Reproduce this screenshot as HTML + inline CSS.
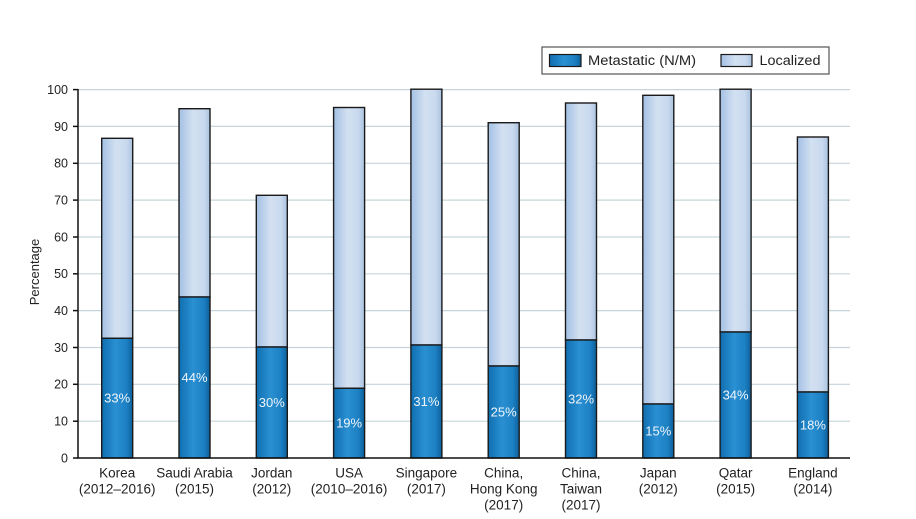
<!DOCTYPE html>
<html><head><meta charset="utf-8"><style>
html,body{margin:0;padding:0;background:#fff;}
svg{display:block;font-family:"Liberation Sans",sans-serif;}
</style></head><body>
<svg width="916" height="519" viewBox="0 0 916 519" xmlns="http://www.w3.org/2000/svg">
<defs>
<linearGradient id="gm" x1="0" x2="1" y1="0" y2="0">
<stop offset="0" stop-color="#0f6eb0"/><stop offset="0.45" stop-color="#2a90d2"/><stop offset="0.8" stop-color="#1c80c3"/><stop offset="1" stop-color="#0d5f99"/>
</linearGradient>
<linearGradient id="gl" x1="0" x2="1" y1="0" y2="0">
<stop offset="0" stop-color="#a3c0e4"/><stop offset="0.45" stop-color="#d2e0f1"/><stop offset="0.8" stop-color="#c9d9ee"/><stop offset="1" stop-color="#a9c2e0"/>
</linearGradient>
</defs>
<g stroke="#c6d5d9" stroke-width="1.2">
<line x1="78" x2="850" y1="89.6" y2="89.6"/><line x1="78" x2="850" y1="126.4" y2="126.4"/><line x1="78" x2="850" y1="163.3" y2="163.3"/><line x1="78" x2="850" y1="200.1" y2="200.1"/><line x1="78" x2="850" y1="237" y2="237"/><line x1="78" x2="850" y1="273.8" y2="273.8"/><line x1="78" x2="850" y1="310.6" y2="310.6"/><line x1="78" x2="850" y1="347.5" y2="347.5"/><line x1="78" x2="850" y1="384.3" y2="384.3"/><line x1="78" x2="850" y1="421.2" y2="421.2"/>
</g>
<g stroke="#1a1a1a" stroke-width="1.4">
<rect x="101.7" y="138.3" width="31" height="200" fill="url(#gl)"/><rect x="101.7" y="338.3" width="31" height="119.7" fill="url(#gm)"/>
<rect x="179" y="108.7" width="31" height="188.3" fill="url(#gl)"/><rect x="179" y="297" width="31" height="161" fill="url(#gm)"/>
<rect x="256.3" y="195.3" width="31" height="151.7" fill="url(#gl)"/><rect x="256.3" y="347" width="31" height="111" fill="url(#gm)"/>
<rect x="333.6" y="107.5" width="31" height="280.8" fill="url(#gl)"/><rect x="333.6" y="388.3" width="31" height="69.7" fill="url(#gm)"/>
<rect x="410.9" y="89.2" width="31" height="255.8" fill="url(#gl)"/><rect x="410.9" y="345" width="31" height="113" fill="url(#gm)"/>
<rect x="488.2" y="122.7" width="31" height="243.3" fill="url(#gl)"/><rect x="488.2" y="366" width="31" height="92" fill="url(#gm)"/>
<rect x="565.5" y="103" width="31" height="237" fill="url(#gl)"/><rect x="565.5" y="340" width="31" height="118" fill="url(#gm)"/>
<rect x="642.8" y="95.3" width="31" height="308.7" fill="url(#gl)"/><rect x="642.8" y="404" width="31" height="54" fill="url(#gm)"/>
<rect x="720.1" y="89.2" width="31" height="242.8" fill="url(#gl)"/><rect x="720.1" y="332" width="31" height="126" fill="url(#gm)"/>
<rect x="797.4" y="137" width="31" height="255" fill="url(#gl)"/><rect x="797.4" y="392" width="31" height="66" fill="url(#gm)"/>
</g>
<g stroke="#111" stroke-width="1.5">
<line x1="78" x2="78" y1="89" y2="458"/>
<line x1="77.3" x2="850" y1="458" y2="458"/>
<line x1="73" x2="78" y1="89.6" y2="89.6"/><line x1="73" x2="78" y1="126.4" y2="126.4"/><line x1="73" x2="78" y1="163.3" y2="163.3"/><line x1="73" x2="78" y1="200.1" y2="200.1"/><line x1="73" x2="78" y1="237" y2="237"/><line x1="73" x2="78" y1="273.8" y2="273.8"/><line x1="73" x2="78" y1="310.6" y2="310.6"/><line x1="73" x2="78" y1="347.5" y2="347.5"/><line x1="73" x2="78" y1="384.3" y2="384.3"/><line x1="73" x2="78" y1="421.2" y2="421.2"/><line x1="73" x2="78" y1="458" y2="458"/>
</g>
<g font-size="12.5" fill="#222" text-anchor="end">
<text x="68" y="94">100</text><text x="68" y="130.8">90</text><text x="68" y="167.7">80</text><text x="68" y="204.5">70</text><text x="68" y="241.4">60</text><text x="68" y="278.2">50</text><text x="68" y="315">40</text><text x="68" y="351.9">30</text><text x="68" y="388.7">20</text><text x="68" y="425.6">10</text><text x="68" y="462.4">0</text>
</g>
<text x="39" y="272" font-size="13" fill="#222" text-anchor="middle" transform="rotate(-90 39 272)">Percentage</text>
<g font-size="13" fill="#eef4fa" text-anchor="middle">
<text x="117.2" y="402.5">33%</text><text x="194.5" y="382">44%</text><text x="271.8" y="407">30%</text><text x="349.1" y="427.5">19%</text><text x="426.4" y="406">31%</text><text x="503.7" y="416.5">25%</text><text x="581" y="403.5">32%</text><text x="658.3" y="435.5">15%</text><text x="735.6" y="399.5">34%</text><text x="812.9" y="429.5">18%</text>
</g>
<g font-size="13.5" fill="#222" text-anchor="middle">
<text x="117.2" y="477.5">Korea</text><text x="117.2" y="493.5">(2012–2016)</text>
<text x="194.5" y="477.5">Saudi Arabia</text><text x="194.5" y="493.5">(2015)</text>
<text x="271.8" y="477.5">Jordan</text><text x="271.8" y="493.5">(2012)</text>
<text x="349.1" y="477.5">USA</text><text x="349.1" y="493.5">(2010–2016)</text>
<text x="426.4" y="477.5">Singapore</text><text x="426.4" y="493.5">(2017)</text>
<text x="503.7" y="477.5">China,</text><text x="503.7" y="493.5">Hong Kong</text><text x="503.7" y="509.5">(2017)</text>
<text x="581" y="477.5">China,</text><text x="581" y="493.5">Taiwan</text><text x="581" y="509.5">(2017)</text>
<text x="658.3" y="477.5">Japan</text><text x="658.3" y="493.5">(2012)</text>
<text x="735.6" y="477.5">Qatar</text><text x="735.6" y="493.5">(2015)</text>
<text x="812.9" y="477.5">England</text><text x="812.9" y="493.5">(2014)</text>
</g>
<rect x="542" y="47" width="287" height="27" fill="#fff" stroke="#555" stroke-width="1.2"/>
<rect x="549.5" y="54.5" width="31.5" height="12" fill="url(#gm)" stroke="#1a1a1a" stroke-width="1.2"/>
<text x="588" y="65" font-size="13.5" fill="#222" textLength="108" lengthAdjust="spacingAndGlyphs">Metastatic (N/M)</text>
<rect x="721" y="54.5" width="31" height="12" fill="url(#gl)" stroke="#1a1a1a" stroke-width="1.2"/>
<text x="759.5" y="65" font-size="13.5" fill="#222" textLength="61" lengthAdjust="spacingAndGlyphs">Localized</text>
</svg>
</body></html>
